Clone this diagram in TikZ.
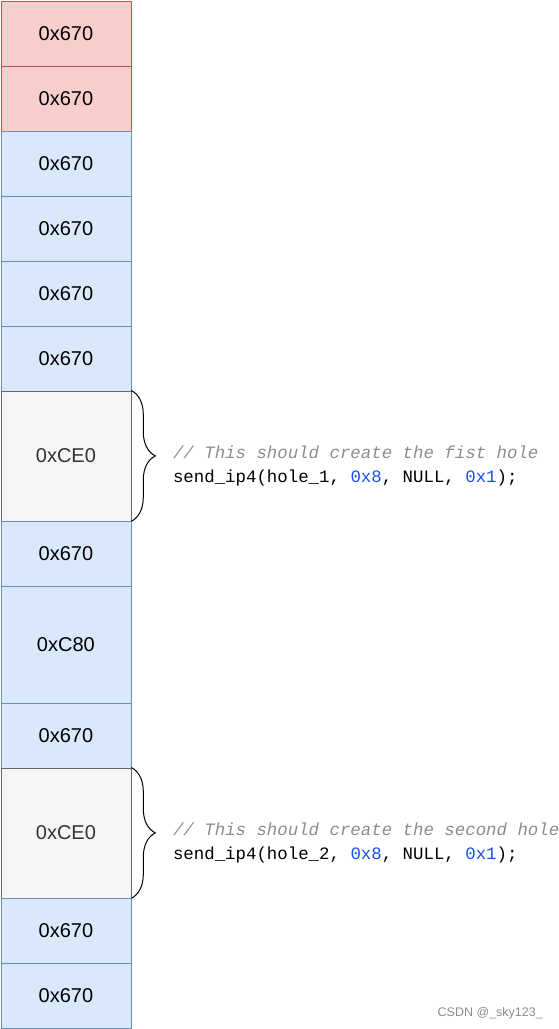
\documentclass[tikz,border=0pt]{standalone}
\usepackage{fontspec}
\setmainfont{Liberation Sans}
\newfontfamily\codefont{Liberation Mono}
\usetikzlibrary{positioning,decorations.pathreplacing}

\definecolor{redfill}{HTML}{F8CECC}
\definecolor{redline}{HTML}{B85450}
\definecolor{bluefill}{HTML}{DAE8FC}
\definecolor{blueline}{HTML}{6C8EBF}
\definecolor{grayfill}{HTML}{F5F5F5}
\definecolor{grayline}{HTML}{666666}
\definecolor{numblue}{HTML}{1750EB}
\definecolor{commentgray}{HTML}{8C8C8C}

\tikzset{
    chunk/.style={draw, line width=0.8pt, minimum width=130pt, inner sep=0pt,
        anchor=north west, font=\fontsize{20}{24}\selectfont},
    used/.style={chunk, fill=redfill, draw=redline},
    freed/.style={chunk, fill=bluefill, draw=blueline},
    hole/.style={chunk, fill=grayfill, draw=grayline, text=black!80},
    curly/.style={decorate, decoration={brace, amplitude=24pt, aspect=0.5}, line width=1pt},
    code/.style={align=left, inner sep=0pt, anchor=west,
        font=\codefont\fontsize{17.4}{24.5}\selectfont}
}

\newcommand{\cmt}[1]{\textcolor{commentgray}{\itshape #1}}
\newcommand{\num}[1]{\textcolor{numblue}{#1}}

\begin{document}
\begin{tikzpicture}[x=1pt, y=-1pt]
    \useasboundingbox (0,0) rectangle (558,1029);

    % Heap chunks from top to bottom
    \foreach \n/\top/\h/\kind/\lab in {
        1/0.5/65/used/0x670, 2/65.5/65/used/0x670,
        3/130.5/65/freed/0x670, 4/195.5/65/freed/0x670,
        5/260.5/65/freed/0x670, 6/325.5/65/freed/0x670,
        7/390.5/130/hole/0xCE0, 8/520.5/65/freed/0x670,
        9/585.5/117/freed/0xC80, 10/702.5/65/freed/0x670,
        11/767.5/130/hole/0xCE0, 12/897.5/65/freed/0x670,
        13/962.5/65/freed/0x670} {
        \node[\kind, minimum height=\h pt] (b\n) at (0.5,\top) {\lab};
    }

    % First hole
    \draw[curly] (b7.north east) -- (b7.south east);
    \node[code] (code1) at ([xshift=41.5pt,yshift=-10pt]b7.east)
        {\cmt{// This should create the fist hole}\\
         send\_ip4(hole\_1, \num{0x8}, NULL, \num{0x1});};

    % Second hole
    \draw[curly] (b11.north east) -- (b11.south east);
    \node[code] (code2) at ([xshift=41.5pt,yshift=-10pt]b11.east)
        {\cmt{// This should create the second hole}\\
         send\_ip4(hole\_2, \num{0x8}, NULL, \num{0x1});};

    % Watermark
    \node[anchor=base east, text=black!45, font=\fontsize{12.5}{14}\selectfont,
        inner sep=0pt] (mark) at (543,1016) {CSDN @\_sky123\_};
\end{tikzpicture}
\end{document}
